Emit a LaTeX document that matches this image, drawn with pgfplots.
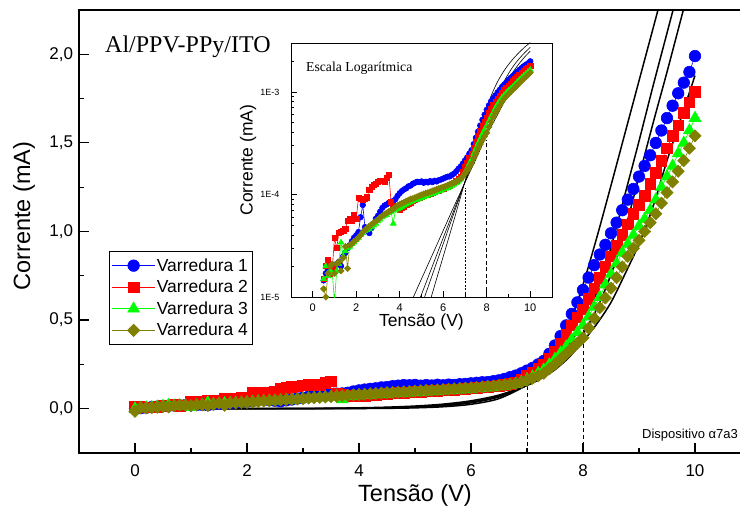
\documentclass[border=0pt]{standalone}
\usepackage{fontspec}
\setmainfont{Liberation Sans}
\newfontfamily\seriffont{Liberation Serif}
\usepackage{pgfplots}
\pgfplotsset{compat=1.18}
\usepackage{pgfplotstable}
\definecolor{cblue}{RGB}{0,0,255}
\definecolor{cred}{RGB}{255,0,0}
\definecolor{cgreen}{RGB}{0,255,0}
\definecolor{colive}{RGB}{128,128,0}

\pgfplotstableread{
V I
0.0 0.000
0.1 0.003
0.2 0.006
0.3 0.009
0.4 0.012
0.5 0.0145
0.6 0.017
0.7 0.018
0.8 0.019
0.9 0.020
1.0 0.019
1.1 0.021
1.2 0.022
1.3 0.020
1.4 0.025
1.5 0.027
1.6 0.030
1.7 0.032
1.8 0.035
1.9 0.038
2.0 0.040
2.1 0.043
2.2 0.060
2.3 0.079
2.4 0.048
2.5 0.045
2.6 0.042
2.7 0.047
2.8 0.052
2.9 0.058
3.0 0.062
3.1 0.068
3.2 0.074
3.3 0.078
3.4 0.080
3.5 0.083
3.6 0.085
3.7 0.086
3.8 0.090
3.9 0.097
4.0 0.103
4.1 0.108
4.2 0.112
4.3 0.115
4.4 0.120
4.5 0.122
4.6 0.127
4.7 0.130
4.8 0.133
4.9 0.132
5.0 0.134
5.1 0.130
5.2 0.133
5.3 0.131
5.4 0.135
5.5 0.132
5.6 0.136
5.7 0.134
5.8 0.138
5.9 0.140
6.0 0.143
6.1 0.146
6.2 0.149
6.3 0.150
6.4 0.155
6.5 0.160
6.6 0.168
6.7 0.178
6.8 0.187
6.9 0.200
7.0 0.215
7.1 0.230
7.2 0.250
7.3 0.270
7.4 0.310
7.5 0.357
7.6 0.410
7.7 0.470
7.8 0.535
7.9 0.600
8.0 0.670
8.1 0.740
8.2 0.810
8.3 0.870
8.4 0.925
8.5 0.990
8.6 1.050
8.7 1.120
8.8 1.180
8.9 1.240
9.0 1.310
9.1 1.370
9.2 1.430
9.3 1.500
9.4 1.570
9.5 1.640
9.6 1.710
9.7 1.780
9.8 1.840
9.9 1.900
10.0 1.990
}\tblA

\pgfplotstableread{
V I
0.0 0.012
0.1 0.010
0.2 0.008
0.3 0.008
0.4 0.010
0.5 0.015
0.6 0.020
0.7 0.023
0.8 0.017
0.9 0.019
1.0 0.038
1.1 0.030
1.2 0.042
1.3 0.043
1.4 0.044
1.5 0.046
1.6 0.055
1.7 0.058
1.8 0.055
1.9 0.063
2.0 0.058
2.1 0.092
2.2 0.090
2.3 0.088
2.4 0.090
2.5 0.094
2.6 0.112
2.7 0.118
2.8 0.124
2.9 0.126
3.0 0.133
3.1 0.135
3.2 0.137
3.3 0.134
3.4 0.145
3.5 0.155
3.6 0.085
3.7 0.078
3.8 0.076
3.9 0.072
4.0 0.071
4.1 0.074
4.2 0.076
4.3 0.079
4.4 0.082
4.5 0.084
4.6 0.086
4.7 0.089
4.8 0.091
4.9 0.093
5.0 0.095
5.1 0.097
5.2 0.099
5.3 0.100
5.4 0.102
5.5 0.103
5.6 0.106
5.7 0.108
5.8 0.110
5.9 0.113
6.0 0.115
6.1 0.118
6.2 0.120
6.3 0.123
6.4 0.126
6.5 0.130
6.6 0.135
6.7 0.142
6.8 0.150
6.9 0.165
7.0 0.185
7.1 0.205
7.2 0.225
7.3 0.250
7.4 0.285
7.5 0.325
7.6 0.370
7.7 0.420
7.8 0.470
7.9 0.515
8.0 0.560
8.1 0.620
8.2 0.680
8.3 0.740
8.4 0.800
8.5 0.860
8.6 0.920
8.7 0.980
8.8 1.040
8.9 1.100
9.0 1.150
9.1 1.200
9.2 1.270
9.3 1.330
9.4 1.400
9.5 1.470
9.6 1.540
9.7 1.600
9.8 1.670
9.9 1.730
10.0 1.790
}\tblB

\pgfplotstableread{
V I
0.0 0.000
0.1 0.004
0.2 0.006
0.3 0.008
0.4 0.011
0.5 0.015
0.6 0.020
0.7 0.016
0.8 0.018
0.9 0.017
1.0 0.009
1.1 0.018
1.2 0.021
1.3 0.034
1.4 0.025
1.5 0.028
1.6 0.030
1.7 0.031
1.8 0.033
1.9 0.034
2.0 0.036
2.1 0.038
2.2 0.040
2.3 0.042
2.4 0.044
2.5 0.045
2.6 0.046
2.7 0.048
2.8 0.050
2.9 0.052
3.0 0.055
3.1 0.057
3.2 0.060
3.3 0.062
3.4 0.063
3.5 0.066
3.6 0.068
3.7 0.052
3.8 0.070
3.9 0.072
4.0 0.074
4.1 0.076
4.2 0.078
4.3 0.080
4.4 0.082
4.5 0.084
4.6 0.086
4.7 0.088
4.8 0.089
4.9 0.091
5.0 0.092
5.1 0.094
5.2 0.096
5.3 0.098
5.4 0.100
5.5 0.101
5.6 0.103
5.7 0.105
5.8 0.107
5.9 0.109
6.0 0.112
6.1 0.114
6.2 0.116
6.3 0.119
6.4 0.122
6.5 0.125
6.6 0.129
6.7 0.134
6.8 0.140
6.9 0.150
7.0 0.165
7.1 0.180
7.2 0.200
7.3 0.220
7.4 0.250
7.5 0.280
7.6 0.315
7.7 0.350
7.8 0.390
7.9 0.430
8.0 0.470
8.1 0.520
8.2 0.575
8.3 0.630
8.4 0.700
8.5 0.760
8.6 0.820
8.7 0.880
8.8 0.930
8.9 0.980
9.0 1.030
9.1 1.070
9.2 1.120
9.3 1.180
9.4 1.250
9.5 1.310
9.6 1.370
9.7 1.440
9.8 1.500
9.9 1.570
10.0 1.640
}\tblC

\pgfplotstableread{
V I
0.0 -0.015
0.1 0.005
0.2 0.004
0.3 0.006
0.4 0.008
0.5 0.012
0.6 0.010
0.7 0.017
0.8 0.020
0.9 0.021
1.0 0.017
1.1 0.021
1.2 0.022
1.3 0.018
1.4 0.024
1.5 0.031
1.6 0.019
1.7 0.032
1.8 0.033
1.9 0.035
2.0 0.036
2.1 0.038
2.2 0.040
2.3 0.043
2.4 0.045
2.5 0.047
2.6 0.049
2.7 0.051
2.8 0.053
2.9 0.055
3.0 0.057
3.1 0.060
3.2 0.062
3.3 0.064
3.4 0.066
3.5 0.068
3.6 0.070
3.7 0.072
3.8 0.075
3.9 0.078
4.0 0.080
4.1 0.082
4.2 0.084
4.3 0.086
4.4 0.088
4.5 0.090
4.6 0.091
4.7 0.093
4.8 0.095
4.9 0.097
5.0 0.099
5.1 0.101
5.2 0.103
5.3 0.104
5.4 0.106
5.5 0.108
5.6 0.110
5.7 0.112
5.8 0.114
5.9 0.116
6.0 0.118
6.1 0.120
6.2 0.123
6.3 0.126
6.4 0.128
6.5 0.131
6.6 0.134
6.7 0.138
6.8 0.142
6.9 0.150
7.0 0.160
7.1 0.172
7.2 0.185
7.3 0.200
7.4 0.225
7.5 0.250
7.6 0.280
7.7 0.310
7.8 0.340
7.9 0.370
8.0 0.400
8.1 0.455
8.2 0.510
8.3 0.570
8.4 0.625
8.5 0.680
8.6 0.740
8.7 0.800
8.8 0.860
8.9 0.905
9.0 0.950
9.1 1.000
9.2 1.050
9.3 1.100
9.4 1.160
9.5 1.220
9.6 1.280
9.7 1.340
9.8 1.400
9.9 1.470
10.0 1.540
}\tblD

\pgfplotstableread{
V A B C D
0 0.000001 0.0000078 0.000019 0.000064
1 0.000006 0.000031 0.000068 0.00019
2 0.00003 0.000126 0.00024 0.00057
3 0.00017 0.00051 0.00085 0.0017
3.5 0.00038 0.00102 0.0016 0.0029
4 0.00088 0.0020 0.0030 0.0050
4.5 0.0020 0.0041 0.0057 0.0087
5 0.0047 0.0082 0.0106 0.015
5.5 0.0109 0.0165 0.020 0.0258
6 0.0249 0.0331 0.0378 0.0446
6.5 0.057 0.0665 0.071 0.077
7 0.134 0.133 0.132 0.131
7.25 0.205 0.185 0.18 0.17
7.5 0.31 0.26 0.237 0.22
7.75 0.47 0.36 0.32 0.29
8 0.70 0.49 0.423 0.38
8.25 0.97 0.66 0.566 0.48
8.5 1.26 0.91 0.757 0.60
8.75 1.555 1.21 1.01 0.76
9 1.85 1.51 1.31 0.93
9.25 2.145 1.82 1.61 1.14
9.5 2.44 2.12 1.90 1.40
9.75 2.74 2.42 2.20 1.64
10 3.03 2.72 2.50 1.88
}\fits

\begin{document}
\begin{tikzpicture}[x=1pt,y=1pt]
\useasboundingbox (0,0) rectangle (740,516);
\begin{axis}[
  at={(79pt,63pt)}, anchor=south west,
  scale only axis, width=672pt, height=443pt,
  xmin=-1, xmax=11, ymin=-0.25, ymax=2.25,
  xtick={0,2,...,10}, minor xtick={1,3,5,7,9},
  ytick={0,0.5,1,1.5,2}, minor ytick={0.25,0.75,1.25,1.75},
  tick pos=left, tick align=inside,
  major tick length=10pt, minor tick length=5pt,
  axis line style={line width=1.6pt},
  every tick/.style={black, line width=1.2pt},
  /pgf/number format/assume math mode=true,
  xticklabel style={font=\fontsize{17}{20}\selectfont, yshift=-8pt},
  yticklabel style={font=\fontsize{17}{20}\selectfont, xshift=-2.5pt,
     /pgf/number format/fixed, /pgf/number format/fixed zerofill,
     /pgf/number format/precision=1, /pgf/number format/use comma},
  xlabel={Tensão (V)}, ylabel={Corrente (mA)},
  xlabel style={font=\fontsize{23.5}{28}\selectfont, at={(axis description cs:0.5,-0.0948)}, anchor=center},
  ylabel style={font=\fontsize{23.5}{28}\selectfont, at={(axis description cs:-0.0818,0.535)}, anchor=center},
  legend cell align=left,
  legend style={at={(rel axis cs:0.0447,0.4560)}, anchor=north west, draw=black, line width=0.9pt,
     font=\fontsize{17.5}{20}\selectfont, row sep=4.2pt, inner xsep=2.5pt, inner ysep=5.5pt,
     nodes={inner sep=1.6pt}},
  legend image code/.code={\draw[mark repeat=2,mark phase=2] plot coordinates {(0cm,0cm) (0.75cm,0cm) (1.5cm,0cm)};},
]
\addplot[cblue, line width=0.6pt, mark=*, mark size=5.8pt, mark options={solid, fill=cblue, draw=cblue}] table[x=V,y=I]{\tblA};
\addlegendentry{Varredura 1}
\addplot[cred, line width=0.6pt, mark=square*, mark size=5.3pt, mark options={solid, fill=cred, draw=cred}] table[x=V,y=I]{\tblB};
\addlegendentry{Varredura 2}
\addplot[cgreen, line width=0.6pt, mark=triangle*, mark size=6.8pt, mark options={solid, fill=cgreen, draw=cgreen}] table[x=V,y=I]{\tblC};
\addlegendentry{Varredura 3}
\addplot[colive, line width=0.6pt, mark=square*, mark size=4.3pt, mark options={solid, rotate=45, fill=colive, draw=colive}] table[x=V,y=I]{\tblD};
\addlegendentry{Varredura 4}
\addplot[black, line width=1.5pt, smooth, forget plot] table[x=V,y=A]{\fits};
\addplot[black, line width=1.5pt, smooth, forget plot] table[x=V,y=B]{\fits};
\addplot[black, line width=1.5pt, smooth, forget plot] table[x=V,y=C]{\fits};
\addplot[black, line width=1.5pt, smooth, forget plot] table[x=V,y=D]{\fits};
\addplot[black, line width=1pt, dash pattern=on 4pt off 3pt, forget plot] coordinates {(7,-0.25) (7,0.13)};
\addplot[black, line width=1pt, dash pattern=on 4pt off 3pt, forget plot] coordinates {(8,-0.25) (8,0.46)};
\end{axis}

\begin{axis}[
  at={(291pt,219pt)}, anchor=south west,
  scale only axis, width=261pt, height=254pt,
  xmin=-1, xmax=11, ymode=log, ymin=1e-5, ymax=3e-3,
  xtick={0,2,...,10}, minor xtick={1,3,5,7,9},
  ytick={1e-5,1e-4,1e-3}, yticklabels={1E-5,1E-4,1E-3},
  minor ytick={2e-5,3e-5,4e-5,5e-5,6e-5,7e-5,8e-5,9e-5,2e-4,3e-4,4e-4,5e-4,6e-4,7e-4,8e-4,9e-4,2e-3},
  tick pos=left, tick align=inside,
  major tick length=6pt, minor tick length=3pt,
  axis background/.style={fill=white},
  axis line style={line width=0.8pt},
  every tick/.style={black, line width=0.8pt},
  /pgf/number format/assume math mode=true,
  xticklabel style={font=\fontsize{11}{13}\selectfont, yshift=-3.5pt},
  yticklabel style={font=\fontsize{9}{10}\selectfont, xshift=-8pt},
  xlabel={Tensão (V)}, ylabel={Corrente (mA)},
  xlabel style={font=\fontsize{17.5}{21}\selectfont, at={(axis description cs:0.5,-0.0984)}, anchor=center},
  ylabel style={font=\fontsize{17.5}{21}\selectfont, at={(axis description cs:-0.1648,0.539)}, anchor=center},
  restrict x to domain=0.45:10,
]
\addplot[cblue, line width=0.6pt, mark=*, mark size=2.8pt, mark options={solid, fill=cblue, draw=cblue}] table[x=V,y expr=\thisrow{I}/1000]{\tblA};
\addplot[cred, line width=0.6pt, mark=square*, mark size=2.6pt, mark options={solid, fill=cred, draw=cred}] table[x=V,y expr=\thisrow{I}/1000]{\tblB};
\addplot[cgreen, line width=0.6pt, mark=triangle*, mark size=3.3pt, mark options={solid, fill=cgreen, draw=cgreen}] table[x=V,y expr=\thisrow{I}/1000]{\tblC};
\addplot[colive, line width=0.6pt, mark=square*, mark size=2.2pt, mark options={solid, rotate=45, fill=colive, draw=colive}] table[x=V,y expr=\thisrow{I}/1000]{\tblD};
\addplot[black, line width=0.6pt, smooth] table[x=V,y expr=\thisrow{A}/1000]{\fits};
\addplot[black, line width=0.6pt, smooth] table[x=V,y expr=\thisrow{B}/1000]{\fits};
\addplot[black, line width=0.6pt, smooth] table[x=V,y expr=\thisrow{C}/1000]{\fits};
\addplot[black, line width=0.6pt, smooth] table[x=V,y expr=\thisrow{D}/1000]{\fits};
\addplot[black, line width=0.8pt, dash pattern=on 2pt off 1.5pt] coordinates {(7,1e-5) (7,1.15e-4)};
\addplot[black, line width=1pt, dash pattern=on 4pt off 2.5pt] coordinates {(8,1e-5) (8,3.4e-4)};
\end{axis}

\node[font=\seriffont\fontsize{24}{28}\selectfont, anchor=base west, inner sep=0pt] at (105,463) {Al/PPV-PPy/ITO};
\node[font=\seriffont\fontsize{13.7}{16}\selectfont, anchor=base west, inner sep=0pt] at (306,444.5) {Escala Logarítmica};
\node[font=\fontsize{13}{15}\selectfont, anchor=base west, inner sep=0pt] at (642,77) {Dispositivo α7a3};
\end{tikzpicture}
\end{document}
